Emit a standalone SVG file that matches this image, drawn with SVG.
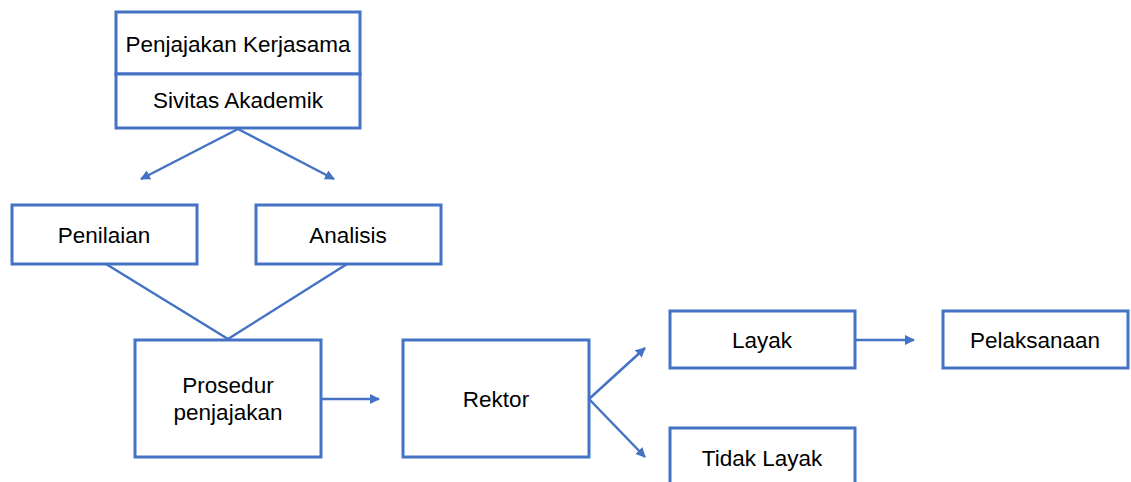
<svg xmlns="http://www.w3.org/2000/svg" width="1131" height="482" viewBox="0 0 1131 482">
<style>
.box{fill:#fff;stroke:#4472C4;stroke-width:3}
.ln{stroke:#4472C4;stroke-width:2.5;fill:none}
.t{font-family:"Liberation Sans",Arial,sans-serif;font-size:22.5px;fill:#000;text-anchor:middle;dominant-baseline:central}
</style>
<defs>
<marker id="ah" viewBox="0 0 10 10" refX="9" refY="5" markerWidth="4" markerHeight="4" orient="auto" markerUnits="strokeWidth">
<path d="M0,0 L10,5 L0,10 Z" fill="#4472C4"/>
</marker>
</defs>
<rect width="1131" height="482" fill="#fff"/>
<g id="connectors">
<line class="ln" x1="238" y1="129" x2="141" y2="179" marker-end="url(#ah)"/>
<line class="ln" x1="238" y1="129" x2="334" y2="179" marker-end="url(#ah)"/>
<line class="ln" x1="106" y1="264" x2="228" y2="339"/>
<line class="ln" x1="347" y1="264" x2="228" y2="339"/>
<line class="ln" x1="321" y1="399" x2="379" y2="399" marker-end="url(#ah)"/>
<line class="ln" x1="589" y1="399" x2="645" y2="348" marker-end="url(#ah)"/>
<line class="ln" x1="589" y1="399" x2="645" y2="457" marker-end="url(#ah)"/>
<line class="ln" x1="855" y1="340" x2="914" y2="340" marker-end="url(#ah)"/>
</g>
<g id="penjajakan">
<rect class="box" x="116" y="12" width="244" height="62"/>
<text class="t" x="238" y="44">Penjajakan Kerjasama</text>
</g>
<g id="sivitas">
<rect class="box" x="116" y="74" width="244" height="54"/>
<text class="t" x="238" y="100">Sivitas Akademik</text>
</g>
<g id="penilaian">
<rect class="box" x="12" y="205" width="185" height="59"/>
<text class="t" x="104" y="235">Penilaian</text>
</g>
<g id="analisis">
<rect class="box" x="256" y="205" width="185" height="59"/>
<text class="t" x="348" y="235">Analisis</text>
</g>
<g id="prosedur">
<rect class="box" x="135" y="340" width="186" height="117"/>
<text class="t" x="228" y="385">Prosedur</text>
<text class="t" x="228" y="412">penjajakan</text>
</g>
<g id="rektor">
<rect class="box" x="403" y="340" width="186" height="117"/>
<text class="t" x="496" y="399">Rektor</text>
</g>
<g id="layak">
<rect class="box" x="670" y="311" width="185" height="57"/>
<text class="t" x="762" y="340">Layak</text>
</g>
<g id="pelaksanaan">
<rect class="box" x="943" y="311" width="185" height="57"/>
<text class="t" x="1035" y="340">Pelaksanaan</text>
</g>
<g id="tidaklayak">
<rect class="box" x="670" y="428" width="185" height="60"/>
<text class="t" x="762" y="458">Tidak Layak</text>
</g>
</svg>
